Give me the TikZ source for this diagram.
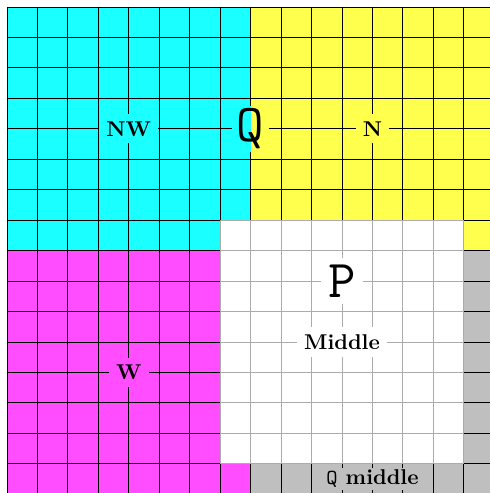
\documentclass[tikz,border=0pt]{standalone}
\usepackage{fontspec}
\definecolor{cyanc}{RGB}{26,255,255}
\definecolor{yellowc}{RGB}{255,255,77}
\definecolor{magc}{RGB}{255,77,255}
\definecolor{grayc}{RGB}{191,191,191}
\pgfdeclarelayer{back}
\pgfdeclarelayer{qbg}
\pgfsetlayers{back,qbg,main}
\tikzset{
  gridline/.style={black, line width=0.4pt},
  lbl/.style={font=\bfseries},
  biglbl/.style={font=\Huge\ttfamily},
}
\begin{document}
\begin{tikzpicture}[x=0.5cm,y=-0.5cm]
\useasboundingbox (-0.23,-0.23) rectangle (15.83,15.96);
\clip (-0.23,-0.23) rectangle (15.83,15.96);
\begin{pgfonlayer}{back}
% quadrants
\fill[cyanc] (0,0) rectangle (8,8);
\fill[yellowc] (8,0) rectangle (16,8);
\fill[magc] (0,8) rectangle (8,16);
\fill[grayc] (8,8) rectangle (16,16);
\fill[white] (7,7) rectangle (15,15);
% grid
\foreach \i in {0,...,16} {
  \draw[gridline] (\i,0) -- (\i,16);
  \draw[gridline] (0,\i) -- (16,\i);
}
% lighten grid in the middle region
\fill[white, fill opacity=0.67] (7,7) rectangle (15,15);
\end{pgfonlayer}
% labels
\coordinate (split) at (8,4);
\node[lbl, fill=cyanc] (nw) at (4,4) {NW};
\node[lbl, fill=yellowc] (n) at (12,4) {N};
\node[lbl, fill=magc] (w) at (4,12) {W};
\node[biglbl, inner xsep=2pt, inner ysep=1pt] (q) at (split) {Q};
\begin{pgfonlayer}{qbg}
\fill[cyanc] (q.south west) rectangle (q.north -| split);
\fill[yellowc] (q.south -| split) rectangle (q.north east);
\end{pgfonlayer}
\node[biglbl, fill=white] (p) at (11,9) {P};
\node[lbl, fill=white] (middle) at (11,11) {Middle};
\node[lbl, fill=grayc, inner xsep=6pt, inner ysep=0.8pt] (qmiddle) at (12,15.5) {\texttt{\mdseries Q} middle};
\end{tikzpicture}
\end{document}
